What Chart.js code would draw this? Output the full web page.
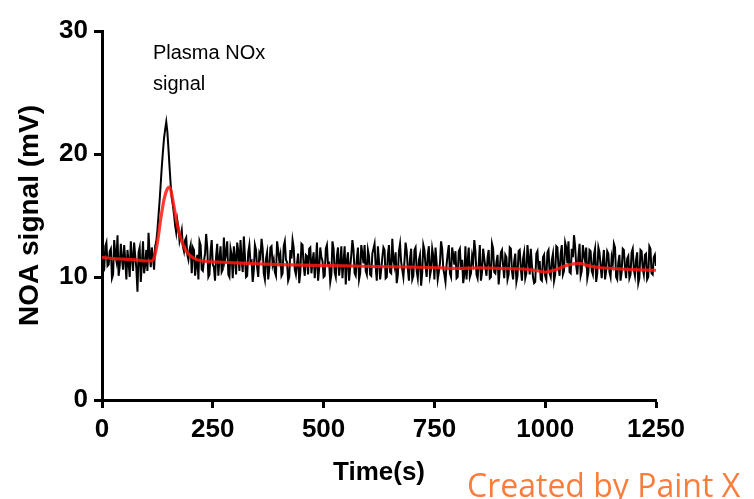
<!DOCTYPE html>
<html>
<head>
<meta charset="utf-8">
<script src="https://cdn.jsdelivr.net/npm/chart.js@4.4.1/dist/chart.umd.min.js"></script>
<style>
  html, body { margin: 0; padding: 0; background: #fff; }
  #wrap { width: 754px; height: 499px; }
</style>
</head>
<body>
<div id="wrap"><canvas id="myChart" width="754" height="499"></canvas></div>
<script>
// raw NOA trace, read every 2.5 s; kept as two halves:
// readings at 0, 5, 10 ... 1250 s
const sampleStep = 5;
const rawSignal = [
    11.9, 10.6, 12.8, 11.0, 12.3, 10.2, 11.8, 13.4, 10.9, 11.5, 12.6, 9.8,
    11.2, 12.9, 10.5, 11.7, 8.8, 12.4, 11.1, 10.3, 12.2, 13.6, 10.8, 11.6,
    // injection peak
    12.5, 13.8, 16.2, 19.0, 21.3, 22.6, 20.4, 17.5, 15.8, 14.2, 14.6, 12.9,
    13.8, 12.1, 13.2, 11.4, 12.6,
    12.4, 10.1, 11.8, 12.9, 10.6, 11.3, 13.5, 10.0, 12.1, 11.0, 9.7, 12.7, 11.5, 10.4, 13.2, 11.9, 10.2, 12.3, 9.9, 11.6,
    12.8, 10.5, 11.4, 13.3, 10.0, 12.0, 11.2, 9.6, 12.6, 10.8, 11.9, 13.1, 10.3, 11.5, 9.8, 12.4, 11.0, 10.4, 12.9, 11.3,
    10.1, 12.5, 11.4, 9.7, 12.2, 13.0, 10.6, 11.1, 9.5, 12.7, 10.9, 11.8, 10.2, 12.4, 11.3, 9.9, 12.8, 10.7, 11.6, 10.0,
    12.3, 11.0, 9.6, 12.9, 10.4, 11.7, 10.1, 12.5, 11.2, 9.4, 12.0, 10.8, 13.0, 10.3, 11.5, 9.8, 12.6, 11.1, 10.5, 12.2,
    10.2, 11.9, 12.7, 9.7, 11.3, 10.6, 12.4, 9.9, 11.8, 10.4, 13.1, 10.9, 9.5, 12.1, 11.2, 10.0, 12.8, 10.7, 11.5, 9.8,
    12.2, 10.5, 11.4, 9.3, 12.6, 10.9, 11.8, 10.1, 12.3, 9.8, 11.2, 10.4, 12.9, 10.7, 9.6, 11.9, 10.3, 12.4, 11.0, 9.9,
    12.1, 10.6, 9.5, 12.5, 11.3, 10.0, 11.7, 13.0, 10.2, 11.1, 9.7, 12.3, 10.8, 11.6, 9.9, 12.7, 10.4, 11.2, 9.4, 12.0,
    10.9, 11.8, 9.8, 12.4, 10.5, 11.3, 9.6, 12.1, 10.7, 11.5, 9.9, 12.6, 10.2, 11.0, 9.5, 11.9, 10.6, 9.8, 11.6, 10.1,
    12.0, 10.3, 11.4, 9.7, 12.5, 10.8, 11.9, 10.2, 12.8, 11.1, 10.4, 12.3, 13.4, 10.9, 11.7, 10.1, 12.6, 11.3, 9.9, 12.2,
    10.5, 11.8, 9.6, 12.4, 10.9, 11.3, 9.8, 12.1, 10.4, 11.6, 12.7, 10.0, 11.2, 9.7, 12.3, 10.8, 11.5, 9.9, 12.0, 10.6,
    11.4, 9.5, 12.2, 10.7, 11.8, 9.8, 12.5, 10.3, 11.6, 10.9
];
// readings at 2.5, 7.5, 12.5 ... 1247.5 s
const rawSignalHalf = [
    10.4, 12.5, 10.9, 12.1, 9.9, 13.0, 11.3, 10.1, 12.7, 10.6, 11.4, 12.2,
    10.0, 11.6, 12.8, 10.7, 12.0, 9.6, 12.9, 11.0, 10.5, 11.9, 12.4, 10.6,
    // injection peak
    12.9, 15.0, 17.6, 20.2, 22.0, 21.8, 18.9, 16.4, 15.1, 13.6, 14.0, 13.3,
    12.5, 13.0, 11.8, 12.2,
    10.3, 12.2, 11.0, 9.8, 12.6, 10.5, 11.9, 12.4, 10.2, 13.0, 10.8, 11.7, 10.1, 12.5, 10.6, 11.4, 12.9, 10.0, 11.8, 12.5,
    10.2, 12.1, 13.0, 10.4, 11.7, 10.1, 12.6, 11.3, 10.5, 12.2, 10.0, 11.6, 12.3, 9.8, 12.0, 10.7, 12.5, 11.4, 10.1, 12.2,
    11.8, 10.3, 12.9, 11.2, 10.0, 11.5, 12.4, 10.2, 11.9, 10.4, 12.6, 10.1, 11.7, 12.3, 10.3, 12.0, 11.1, 9.7, 12.4, 11.3,
    10.1, 12.6, 11.1, 10.2, 12.3, 10.0, 12.4, 11.0, 9.9, 12.5, 11.3, 9.7, 11.8, 12.2, 10.1, 12.4, 10.3, 11.9, 12.6, 10.2,
    11.7, 10.1, 12.3, 10.8, 12.5, 9.8, 11.6, 12.2, 10.0, 12.6, 10.3, 11.4, 12.0, 10.2, 12.7, 10.6, 11.3, 12.1, 9.7, 12.3,
    10.1, 12.4, 9.9, 11.8, 10.3, 12.2, 10.0, 12.5, 10.6, 11.7, 12.4, 9.8, 11.1, 12.3, 10.2, 11.0, 12.6, 10.0, 11.8, 12.1,
    10.0, 12.3, 11.4, 10.2, 9.8, 12.4, 10.3, 11.2, 12.1, 9.9, 12.6, 10.4, 11.5, 10.1, 12.2, 10.0, 12.3, 10.3, 11.8, 10.6,
    12.2, 9.9, 11.6, 10.2, 12.3, 9.8, 11.9, 10.1, 12.2, 9.7, 12.0, 10.3, 11.5, 12.3, 10.0, 9.6, 12.1, 11.3, 9.7, 11.8,
    9.8, 12.2, 10.0, 11.9, 10.2, 12.4, 10.1, 12.6, 10.5, 12.4, 12.9, 10.3, 11.6, 12.5, 10.2, 12.7, 10.5, 11.8, 12.4, 10.4,
    12.1, 10.2, 12.3, 10.3, 12.0, 9.9, 12.2, 10.5, 11.9, 10.0, 11.1, 12.4, 9.8, 11.8, 10.4, 12.2, 9.9, 11.7, 10.2, 12.3,
    10.1, 12.0, 9.9, 12.1, 10.2, 11.9, 10.0, 12.3, 10.2, 11.8
];

// smoothed trace (red)
const smoothTimes = [0, 25, 50, 75, 100, 112, 118, 125, 132, 140, 148, 153, 158, 165, 172, 180, 190, 200,
    215, 240, 275, 325, 400, 475, 550, 625, 700, 760, 800, 850, 900, 950, 975, 1000, 1025, 1050, 1075,
    1100, 1125, 1150, 1200, 1250];
const smoothValues = [11.6, 11.5, 11.45, 11.4, 11.3, 11.3, 11.6, 12.8, 14.6, 16.3, 17.2, 17.3, 16.6, 15.2,
    13.9, 12.9, 12.1, 11.7, 11.4, 11.25, 11.2, 11.1, 11.0, 10.95, 10.9, 10.85, 10.8, 10.75, 10.7, 10.75,
    10.7, 10.65, 10.55, 10.4, 10.6, 10.95, 11.1, 10.9, 10.75, 10.7, 10.6, 10.55];

const xTicks = [0, 250, 500, 750, 1000, 1250];
const yTicks = [0, 10, 20, 30];

// interleave the two halves into one trace
const rawPoints = [];
rawSignal.forEach((v, i) => {
    rawPoints.push({ x: i * sampleStep, y: v });
    if (i < rawSignalHalf.length) {
        rawPoints.push({ x: i * sampleStep + sampleStep / 2, y: rawSignalHalf[i] });
    }
});
const smoothPoints = smoothTimes.map((t, i) => ({ x: t, y: smoothValues[i] }));

const axisFont = { family: '"Liberation Sans", Arial, sans-serif', weight: 'bold', size: 26 };

const textPlugin = {
    id: 'textPlugin',
    afterDraw(chart) {
        const ctx = chart.ctx;
        const xs = chart.scales.x;
        const ys = chart.scales.y;
        ctx.save();
        ctx.fillStyle = '#000';
        ctx.font = '20px "Liberation Sans", Arial, sans-serif';
        ctx.textAlign = 'left';
        ctx.textBaseline = 'alphabetic';
        ctx.fillText('Plasma NOx', xs.getPixelForValue(115), ys.getPixelForValue(27.7));
        ctx.fillText('signal', xs.getPixelForValue(115), ys.getPixelForValue(25.2));
        // watermark
        ctx.fillStyle = '#fa7d3c';
        ctx.font = '32px "Open Sans", sans-serif';
        ctx.fillText('Created by Paint X', 467, 497);
        ctx.restore();
    }
};

const ctx = document.getElementById('myChart').getContext('2d');
new Chart(ctx, {
    type: 'line',
    data: {
        datasets: [{
            label: 'Smoothed',
            data: smoothPoints,
            borderColor: 'rgba(255, 25, 15, 0.85)',
            borderWidth: 3.2,
            pointRadius: 0,
            cubicInterpolationMode: 'monotone',
            order: 0
        }, {
            label: 'NOA signal',
            data: rawPoints,
            borderColor: '#000',
            borderWidth: 2,
            pointRadius: 0,
            tension: 0,
            order: 1
        }]
    },
    options: {
        responsive: false,
        animation: false,
        devicePixelRatio: 1,
        layout: { padding: { left: 0, right: 98, top: 31, bottom: 0 } },
        plugins: {
            legend: { display: false },
            tooltip: { enabled: false }
        },
        scales: {
            x: {
                type: 'linear',
                min: 0,
                max: 1250,
                afterFit(scale) { scale.height = 99; },
                afterBuildTicks(scale) { scale.ticks = xTicks.map(v => ({ value: v })); },
                border: { display: true, color: '#000', width: 3 },
                grid: { drawOnChartArea: false, drawTicks: true, tickLength: 8, tickWidth: 3, tickColor: '#000' },
                ticks: {
                    color: '#000', font: axisFont, padding: 6, maxRotation: 0,
                    callback: function(value) { return String(value); }
                },
                title: { display: true, text: 'Time(s)', color: '#000', font: axisFont, padding: { top: 0, bottom: 11 } }
            },
            y: {
                min: 0,
                max: 30,
                afterFit(scale) { scale.width = 102; },
                afterBuildTicks(scale) { scale.ticks = yTicks.map(v => ({ value: v })); },
                border: { display: true, color: '#000', width: 3 },
                grid: { drawOnChartArea: false, drawTicks: true, tickLength: 8, tickWidth: 3, tickColor: '#000' },
                ticks: {
                    color: '#000', font: axisFont, padding: 6,
                    callback: function(value) { return String(value); }
                },
                title: {
                    display: true,
                    text: 'NOA signal (mV)',
                    color: '#000',
                    font: { family: '"Liberation Sans", Arial, sans-serif', weight: 'bold', size: 28 },
                    padding: { top: 13, bottom: 0 }
                }
            }
        }
    },
    plugins: [textPlugin]
});
</script>
</body>
</html>
